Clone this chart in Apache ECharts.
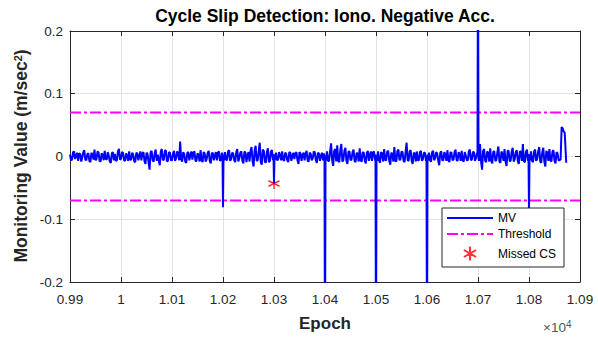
<!DOCTYPE html>
<html><head><meta charset="utf-8">
<script src="https://cdn.jsdelivr.net/npm/echarts@6/dist/echarts.min.js"></script>
<style>html,body{margin:0;padding:0;background:#fff}#c{width:598px;height:341px}</style>
</head><body><div id="c"></div>
<script>
// Monitoring value, sampled every 4 epochs starting at 9900
const epochStart = 9900;
const epochStep = 4;
const mv = [
 0.003,-0.005,0.008,0.001,-0.007,0.004,-0.002,0.010,-0.006,0.005,-0.009,0.002,0.011,-0.004,0.006,-0.008,0.003,0.009,-0.005,0.001,-0.010,0.007,0.004,-0.006,0.012,
 -0.004,0.006,-0.007,0.002,0.008,-0.005,0.003,-0.009,0.005,0.001,-0.006,0.007,-0.012,0.004,-0.021,0.009,-0.008,0.011,0.003,-0.014,0.012,-0.005,0.010,-0.007,0.006,
 -0.006,0.009,-0.003,0.005,0.024,-0.008,0.004,-0.010,0.007,0.002,-0.005,0.008,-0.007,0.003,0.010,-0.009,0.005,-0.004,0.009,-0.011,0.006,0.001,-0.006,0.008,-0.005,
 0.002,0.007,-0.006,0.010,-0.004,0.005,-0.009,0.012,-0.003,0.008,-0.011,0.006,0.002,-0.008,0.015,-0.016,0.017,-0.006,0.022,-0.013,0.009,-0.010,0.013,-0.007,0.010,
 0.003,0.006,-0.005,0.002,0.008,-0.007,0.004,-0.009,0.006,0.001,-0.004,0.007,-0.012,0.005,0.002,-0.006,0.009,-0.008,0.004,-0.003,0.007,-0.010,0.005,0.001,-0.006,
 0.002,0.008,-0.007,0.021,-0.015,0.012,0.018,-0.009,0.020,-0.006,0.014,-0.012,0.008,-0.005,0.011,-0.009,0.004,0.013,-0.008,0.006,-0.011,0.009,0.002,-0.007,0.008,
 0.001,0.008,-0.010,0.005,0.012,-0.006,0.009,-0.013,0.004,0.015,-0.008,0.011,-0.004,0.007,-0.009,0.022,-0.007,0.010,-0.012,0.005,0.008,-0.006,0.009,-0.004,0.006,
 0.002,0.006,-0.008,0.009,-0.003,0.005,-0.014,0.008,-0.006,0.003,0.010,-0.009,0.006,-0.005,0.011,-0.007,0.004,0.009,-0.008,0.002,-0.006,0.011,-0.005,0.007,-0.003,
 0.003,0.020,-0.021,0.012,-0.009,0.006,0.013,-0.011,0.008,-0.006,0.016,-0.010,0.004,0.012,-0.015,0.009,-0.007,0.014,-0.004,0.010,-0.012,0.008,0.020,-0.009,0.011,
 0.002,0.008,-0.009,0.011,-0.004,0.015,-0.010,0.014,-0.016,0.006,0.012,-0.008,0.010,-0.011,0.005,-0.006,0.047,0.040
];
// Monitoring value at the in-between epochs (9902, 9906, ...)
const mvMidStart = 9902;
const mvMid = [
 -0.006,0.007,-0.004,0.006,0.005,-0.008,0.007,-0.005,0.004,-0.007,0.006,-0.005,-0.006,0.008,-0.007,0.005,-0.006,-0.004,0.007,-0.008,0.005,-0.006,-0.007,0.008,-0.005,
 0.007,-0.006,0.005,-0.007,-0.005,0.006,-0.008,0.006,-0.006,0.008,0.005,-0.007,0.006,-0.009,0.007,-0.006,0.005,-0.007,-0.006,0.008,-0.006,0.009,-0.008,0.007,-0.006,
 0.005,-0.007,0.008,-0.006,-0.005,0.007,-0.008,0.006,-0.006,0.008,0.006,-0.007,0.005,-0.008,-0.006,0.007,-0.008,0.006,-0.007,0.005,-0.006,0.007,0.006,-0.007,0.006,
 -0.006,-0.005,0.008,-0.007,0.006,-0.006,0.007,-0.008,0.006,-0.007,0.008,-0.009,0.007,0.009,-0.008,0.010,-0.007,0.008,-0.009,0.011,-0.008,0.007,-0.009,0.008,-0.006,
 -0.005,-0.006,0.007,-0.006,-0.005,0.006,-0.006,0.007,-0.007,0.006,0.005,-0.006,0.007,-0.007,0.006,0.005,-0.007,0.006,-0.006,0.008,-0.006,0.006,-0.007,0.006,0.005,
 -0.006,-0.007,0.008,-0.006,0.009,-0.008,-0.007,0.010,-0.008,0.009,-0.007,0.008,-0.006,0.007,-0.007,0.006,-0.008,-0.006,0.007,-0.007,0.006,-0.007,0.008,0.006,-0.006,
 -0.007,-0.006,0.007,-0.008,-0.006,0.008,-0.007,0.006,-0.008,-0.007,0.009,-0.006,0.008,-0.007,0.007,-0.006,0.008,-0.007,0.006,-0.008,-0.006,0.007,-0.007,0.006,-0.007,
 -0.006,-0.006,0.007,-0.006,0.007,-0.007,0.006,-0.006,0.007,-0.007,-0.006,0.007,-0.006,0.007,-0.006,0.007,-0.007,-0.006,0.007,-0.006,0.008,-0.006,0.007,-0.007,0.006,
 -0.007,-0.008,0.009,-0.007,0.008,-0.008,-0.007,0.008,-0.007,0.007,-0.008,0.008,-0.007,-0.008,0.009,-0.007,0.008,-0.008,0.007,-0.007,0.008,-0.007,-0.008,0.007,-0.007,
 -0.006,-0.007,0.008,-0.007,0.008,-0.008,0.007,-0.008,0.009,-0.007,-0.006,0.008,-0.007,0.007,-0.006,-0.004,0.045,0.038
];
// Detected spikes (exact epochs)
const spikeEpochs = [10199,10200,10201, 10299,10300,10301, 10399,10400,10401, 10499,10500,10501, 10599,10600,10601, 10699,10700,10701, 10799,10800,10801, 10873];
const spikeValues = [0.003,-0.081,-0.002, 0.004,-0.043,0.001, -0.003,-0.35,0.002, 0.003,-0.35,-0.004, -0.002,-0.35,0.003, 0.002,0.35,-0.003, 0.004,-0.085,-0.002, -0.010];
const thresholdValue = 0.07;
const missedEpochs = [10300];
const missedValues = [-0.043];
const xTickLabels = ['0.99','1','1.01','1.02','1.03','1.04','1.05','1.06','1.07','1.08','1.09'];
const yTickLabels = ['-0.2','-0.1','0','0.1','0.2'];

const pts = new Map();
mv.forEach((v, i) => pts.set(epochStart + i * epochStep, v));
mvMid.forEach((v, i) => pts.set(mvMidStart + i * epochStep, v));
spikeEpochs.forEach((e, i) => pts.set(e, spikeValues[i]));
const mvData = Array.from(pts.entries()).sort((a, b) => a[0] - b[0]);

const FONT = 'Liberation Sans, Arial, sans-serif';
const axisColor = '#262626';
const chart = echarts.init(document.getElementById('c'), null, {renderer: 'svg'});
const asterisk = 'path://M0,-6L0,6M-5.2,-3L5.2,3M-5.2,3L5.2,-3';

chart.setOption({
  animation: false,
  backgroundColor: '#fff',
  grid: {left: 70, right: 18, top: 31, bottom: 59, containLabel: false},
  xAxis: [{
    type: 'value', min: 9900, max: 10900, interval: 100, position: 'bottom',
    axisLine: {show: true, onZero: false, lineStyle: {color: axisColor, width: 1}},
    axisTick: {show: true, inside: true, length: 5, lineStyle: {color: axisColor}},
    splitLine: {show: true, lineStyle: {color: '#e3e3e3', width: 1}},
    axisLabel: {margin: 10, fontSize: 13.5, color: axisColor, fontFamily: FONT,
      formatter: v => xTickLabels[Math.round((v - 9900) / 100)]}
  }, {
    type: 'value', min: 9900, max: 10900, interval: 100, position: 'top',
    axisLine: {show: true, onZero: false, lineStyle: {color: axisColor, width: 1}},
    axisTick: {show: true, inside: true, length: 5, lineStyle: {color: axisColor}},
    splitLine: {show: false}, axisLabel: {show: false}
  }],
  yAxis: [{
    type: 'value', min: -0.2, max: 0.2, interval: 0.1, position: 'left',
    axisLine: {show: true, onZero: false, lineStyle: {color: axisColor, width: 1}},
    axisTick: {show: true, inside: true, length: 5, lineStyle: {color: axisColor}},
    splitLine: {show: true, lineStyle: {color: '#e3e3e3', width: 1}},
    axisLabel: {margin: 7, fontSize: 13.5, color: axisColor, fontFamily: FONT,
      formatter: v => yTickLabels[Math.round(v * 10) + 2]}
  }, {
    type: 'value', min: -0.2, max: 0.2, interval: 0.1, position: 'right',
    axisLine: {show: true, onZero: false, lineStyle: {color: axisColor, width: 1}},
    axisTick: {show: true, inside: true, length: 5, lineStyle: {color: axisColor}},
    splitLine: {show: false}, axisLabel: {show: false}
  }],
  legend: {
    orient: 'vertical', left: 442, top: 208,
    padding: [4, 8, 4, 4], itemGap: 4, itemWidth: 46, itemHeight: 14,
    backgroundColor: '#fff', borderColor: axisColor, borderWidth: 1, borderRadius: 0,
    textStyle: {fontSize: 12, color: '#000', fontFamily: FONT},
    data: [
      {name: 'MV', itemStyle: {opacity: 0}},
      {name: 'Threshold', itemStyle: {opacity: 0}},
      {name: 'Missed CS'}
    ]
  },
  series: [
    {name: 'Threshold', type: 'line', symbol: 'none', silent: true,
     data: [[9900, thresholdValue], [10900, thresholdValue]],
     lineStyle: {color: '#ff00ff', width: 2, type: [11, 3, 3, 3]}, itemStyle: {color: '#ff00ff'}},
    {name: 'Threshold', type: 'line', symbol: 'none', silent: true,
     data: [[9900, -thresholdValue], [10900, -thresholdValue]],
     lineStyle: {color: '#ff00ff', width: 2, type: [11, 3, 3, 3]}, itemStyle: {color: '#ff00ff'}},
    {name: 'MV', type: 'line', symbol: 'none', clip: true, data: mvData,
     lineStyle: {color: '#0000ff', width: 2}, itemStyle: {color: '#0000ff'}},
    {name: 'Missed CS', type: 'scatter', symbol: asterisk, symbolSize: 11,
     data: missedEpochs.map((e, i) => [e, missedValues[i]]),
     itemStyle: {color: 'none', borderColor: '#ff0000', borderWidth: 1.5}}
  ],
  graphic: [
    {type: 'text', x: 325, y: 16, style: {text: 'Cycle Slip Detection: Iono. Negative Acc.',
      textAlign: 'center', textVerticalAlign: 'middle', fontSize: 17.5, fontWeight: 'bold', fontFamily: FONT, fill: '#000'}},
    {type: 'text', x: 325, y: 323, style: {text: 'Epoch',
      textAlign: 'center', textVerticalAlign: 'middle', fontSize: 17, fontWeight: 'bold', fontFamily: FONT, fill: '#262626'}},
    {type: 'text', x: 21, y: 156, rotation: Math.PI / 2, style: {text: 'Monitoring Value (m/sec{sup|2})',
      textAlign: 'center', textVerticalAlign: 'middle', fontSize: 17.5, fontWeight: 'bold', fontFamily: FONT, fill: '#262626',
      rich: {sup: {fontSize: 11, fontWeight: 'bold', fontFamily: FONT, fill: '#262626', verticalAlign: 'top', padding: [0, 0, 6, 0]}}}},
    {type: 'text', x: 543, y: 327, style: {text: '×10{sup|4}',
      textAlign: 'left', textVerticalAlign: 'middle', fontSize: 13.5, fontFamily: FONT, fill: '#555',
      rich: {sup: {fontSize: 10, fontFamily: FONT, fill: '#555', verticalAlign: 'top', padding: [0, 0, 6, 0]}}}}
  ]
});
</script></body></html>
